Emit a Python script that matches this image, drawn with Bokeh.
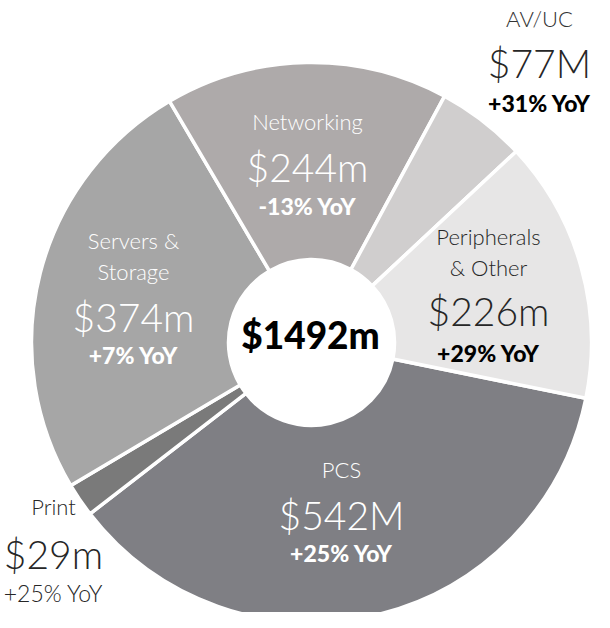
import math
from bokeh.plotting import figure
from bokeh.models import Range1d, ColumnDataSource
from bokeh.core.properties import value
from bokeh.embed import file_html
from bokeh.resources import INLINE

# ---- data ----
segments = ["PCS", "Print", "Servers & Storage", "Networking", "AV/UC", "Peripherals & Other"]
revenue = [542, 29, 374, 244, 77, 226]
revenue_labels = ["$542M", "$29m", "$374m", "$244m", "$77M", "$226m"]
yoy_labels = ["+25% YoY", "+25% YoY", "+7% YoY", "-13% YoY", "+31% YoY", "+29% YoY"]
name_lines = [["PCS"], ["Print"], ["Servers &", "Storage"], ["Networking"], ["AV/UC"], ["Peripherals", "& Other"]]
total_label = "$1492m"

# ---- style / layout ----
colors = ["#7f7f84", "#7a7a7a", "#a6a6a6", "#aeaaaa", "#d0cece", "#e7e6e6"]
CX, CY = 319, -350
R_OUT, R_IN = 280, 83
START = math.radians(-11.5)

W, H = 594, 612
p = figure(width=W, height=H, output_backend="svg", toolbar_location=None,
           x_range=Range1d(8, 8 + W), y_range=Range1d(-(8 + H), -8),
           min_border=0, outline_line_color=None)
p.axis.visible = False
p.grid.visible = False
p.background_fill_color = "white"
p.border_fill_color = "white"

total = sum(revenue)
starts, ends = [], []
cum = 0
for v in revenue:
    starts.append(START - cum / total * 2 * math.pi)
    cum += v
    ends.append(START - cum / total * 2 * math.pi)

src = ColumnDataSource(dict(seg=segments, start=starts, end=ends, color=colors))
p.annular_wedge(x=CX, y=CY, inner_radius=R_IN, outer_radius=R_OUT,
                start_angle="start", end_angle="end", direction="clock",
                fill_color="color", line_color="white", line_width=3.5, source=src)

LIGHT = "Lato Light"
HEAVY = "Lato Black"

# label anchor positions (pixel coords in the page)
anchors = {
    "PCS": (349, 477, 522, 560, "#ffffff", "#ffffff", "#ffffff", True),
    "Print": (61, 514, 561, 600, "#262626", "#262626", "#262626", False),
    "Servers & Storage": (141, 248, 324, 362, "#ffffff", "#ffffff", "#ffffff", True),
    "Networking": (315, 129, 174, 213, "#ffffff", "#ffffff", "#ffffff", True),
    "AV/UC": (547, 26, 70, 110, "#333333", "#262626", "#000000", True),
    "Peripherals & Other": (496, 244, 318, 360, "#262626", "#262626", "#000000", True),
}

for i, seg in enumerate(segments):
    x, y_name, y_val, y_yoy, c_name, c_val, c_yoy, heavy = anchors[seg]
    lines = name_lines[i]
    for k, ln in enumerate(lines):
        p.text(x=[x], y=[-(y_name + 31 * k)], text=[ln], text_align="center",
               text_baseline="middle", text_font=value(LIGHT), text_font_size="22px",
               text_color=c_name)
    p.text(x=[x], y=[-y_val], text=[revenue_labels[i]], text_align="center",
           text_baseline="middle", text_font=value(LIGHT), text_font_size="39px",
           text_color=c_val)
    if heavy:
        p.text(x=[x], y=[-y_yoy], text=[yoy_labels[i]], text_align="center",
               text_baseline="middle", text_font=value(HEAVY), text_font_style="bold",
               text_font_size="23px", text_color=c_yoy)
    else:
        p.text(x=[x], y=[-y_yoy], text=[yoy_labels[i]], text_align="center",
               text_baseline="middle", text_font=value(LIGHT), text_font_size="23px",
               text_color=c_yoy)

p.text(x=[318], y=[-342], text=[total_label], text_align="center", text_baseline="middle",
       text_font=value(HEAVY), text_font_style="bold", text_font_size="37px",
       text_color="#000000")

open("out.html", "w").write(file_html(p, INLINE))
